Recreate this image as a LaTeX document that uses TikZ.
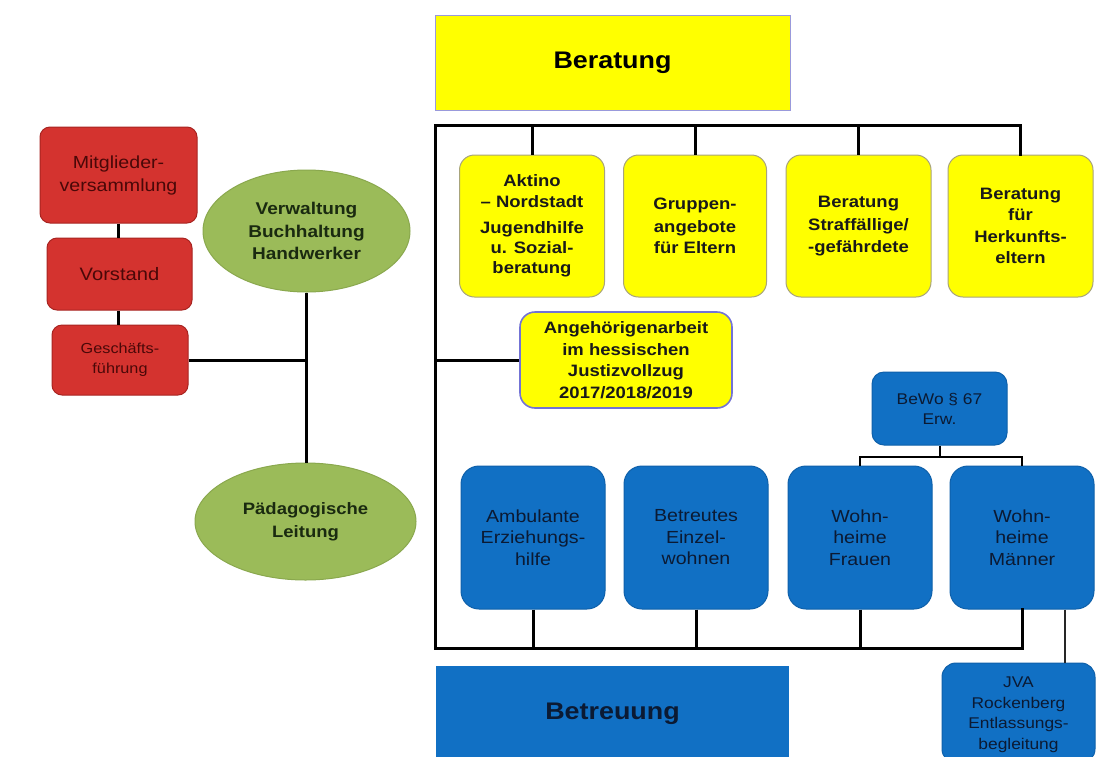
\documentclass[tikz,border=0pt]{standalone}
\usepackage{fontspec}
\setmainfont[FakeStretch=1.12]{Liberation Sans}
\usetikzlibrary{shapes.geometric,calc}
\definecolor{ylw}{HTML}{FFFF00}
\definecolor{ylwline}{HTML}{A8A47C}
\definecolor{redfill}{HTML}{D4332F}
\definecolor{redline}{HTML}{A82421}
\definecolor{redtext}{HTML}{4A0808}
\definecolor{bluefill}{HTML}{1170C4}
\definecolor{blueline}{HTML}{0E60AA}
\definecolor{bluetext}{HTML}{0B1A33}
\definecolor{grnfill}{HTML}{9BBB59}
\definecolor{grnline}{HTML}{8AA84E}
\definecolor{grntext}{HTML}{1A2A10}
\tikzset{
  ybox/.style={draw=ylwline, line width=1pt, fill=ylw, rounded corners=15pt, inner sep=0pt, align=center,
     minimum height=142pt, font=\fontsize{16.5}{21.5}\selectfont\bfseries, text=black!90},
  bbox/.style={draw=blueline, line width=1pt, fill=bluefill, rounded corners=18pt, inner sep=0pt, align=center,
     minimum width=144pt, minimum height=143pt, font=\fontsize{17.5}{21.5}\selectfont, text=bluetext},
  rbox/.style={draw=redline, line width=1pt, fill=redfill, rounded corners=10pt, inner sep=0pt, align=center, text=redtext},
  gell/.style={ellipse, draw=grnline, line width=1pt, fill=grnfill, inner sep=0pt, align=center,
     font=\fontsize{17}{22.5}\selectfont\bfseries, text=grntext},
  titlebox/.style={inner sep=0pt, align=center, font=\fontsize{24}{28}\selectfont\bfseries},
  frameline/.style={line width=3pt, black},
  midline/.style={line width=2pt, black},
  fineline/.style={line width=1.3pt, black!85},
}
\begin{document}
\begin{tikzpicture}[x=1pt,y=-1pt]
\useasboundingbox (0,0) rectangle (1108,756);
\clip (0,0) rectangle (1108,756);
\fill[white] (0,0) rectangle (1108,756);

% ---- left part ----
\node[rbox, minimum width=157pt, minimum height=96pt, font=\fontsize{17.5}{23}\selectfont] (mitglieder) at (118.5,175) {Mitglieder-\\versammlung};
\node[rbox, minimum width=145pt, minimum height=72pt, font=\fontsize{18}{22}\selectfont] (vorstand) at (119.5,274) {Vorstand};
\node[rbox, minimum width=136pt, minimum height=70pt, font=\fontsize{14.5}{20}\selectfont] (gf) at (120,360) {Geschäfts-\\führung};
\node[gell, minimum width=207pt, minimum height=122pt] (verw) at (306.5,231) {Verwaltung\\Buchhaltung\\Handwerker};
\node[gell, minimum width=221pt, minimum height=117pt, font=\fontsize{16.5}{23}\selectfont\bfseries] (paed) at (305.5,521.5) {Pädagogische\\Leitung};

\draw[frameline] (mitglieder.south) -- (mitglieder.south |- vorstand.north);
\draw[frameline] (mitglieder.south |- vorstand.south) -- (mitglieder.south |- gf.north);
\draw[frameline] (verw.south) -- (verw.south |- paed.north);
\draw[frameline] (gf.east) -- (gf.east -| verw.south);

% ---- Beratung ----
\node[titlebox, draw=black!35!blue!40, line width=1pt, fill=ylw, minimum width=355pt, minimum height=95pt] (beratung) at (612.5,62.5) {Beratung};

\node[ybox, minimum width=145pt] (aktino) at (532,226) {Aktino\\[-1pt]– Nordstadt\\[5pt]Jugendhilfe\\[-1.5pt]u. Sozial-\\[-1.5pt]beratung};
\node[ybox, minimum width=143pt] (gruppen) at (695,226) {Gruppen-\\[1.5pt]angebote\\für Eltern};
\node[ybox, minimum width=145pt] (straff) at (858.5,226) {Beratung\\[1.5pt]Straffällige/\\-gefährdete};
\node[ybox, minimum width=145pt] (herkunft) at (1020.5,226) {Beratung\\für\\Herkunfts-\\eltern};
\node[ybox, draw=black!30!blue!55, line width=1.6pt, minimum width=212pt, minimum height=96pt] (angeh) at (626,360) {Angehörigenarbeit\\im hessischen\\Justizvollzug\\2017/2018/2019};

% ---- Betreuung ----
\node[bbox, rounded corners=12pt, minimum width=135pt, minimum height=73pt, font=\fontsize{15.5}{20}\selectfont] (bewo) at (939.5,408.5) {BeWo § 67\\Erw.};
\node[bbox] (amb) at (533,537.5) {Ambulante\\Erziehungs-\\hilfe};
\node[bbox] (betr) at (696,537.5) {Betreutes\\Einzel-\\wohnen};
\node[bbox] (frauen) at (860,537.5) {Wohn-\\heime\\Frauen};
\node[bbox] (maenner) at (1022,537.5) {Wohn-\\heime\\Männer};
\node[titlebox, fill=bluefill, minimum width=353pt, minimum height=96pt, text=bluetext] (betreuung) at (612.5,714) {Betreuung};
\node[bbox, rounded corners=14pt, minimum width=153pt, minimum height=100pt, font=\fontsize{15.5}{20.5}\selectfont, text depth=0pt] (jva) at (1018.5,713) {JVA\\Rockenberg\\Entlassungs-\\begleitung};

% ---- frame ----
\coordinate (tl) at (435,125);
\coordinate (bl) at (435,648);
\draw[frameline, line cap=rect] (herkunft.north) |- (tl) -- (bl) -| (maenner.south);
\foreach \n in {aktino,gruppen,straff} \draw[frameline] (\n.north) -- (\n.north |- tl);
\foreach \n in {amb,betr,frauen} \draw[frameline] (\n.south) -- (\n.south |- bl);
\draw[frameline] (angeh.west) -- (angeh.west -| tl);

\coordinate (bj) at ($(bewo.south)+(0,11)$);
\draw[midline] (bewo.south) -- (bj);
\draw[midline] (frauen.north) |- (bj) -| (maenner.north);
\draw[fineline] ([xshift=43pt]maenner.south) -- ([xshift=43pt]maenner.south |- jva.north);
\end{tikzpicture}
\end{document}
